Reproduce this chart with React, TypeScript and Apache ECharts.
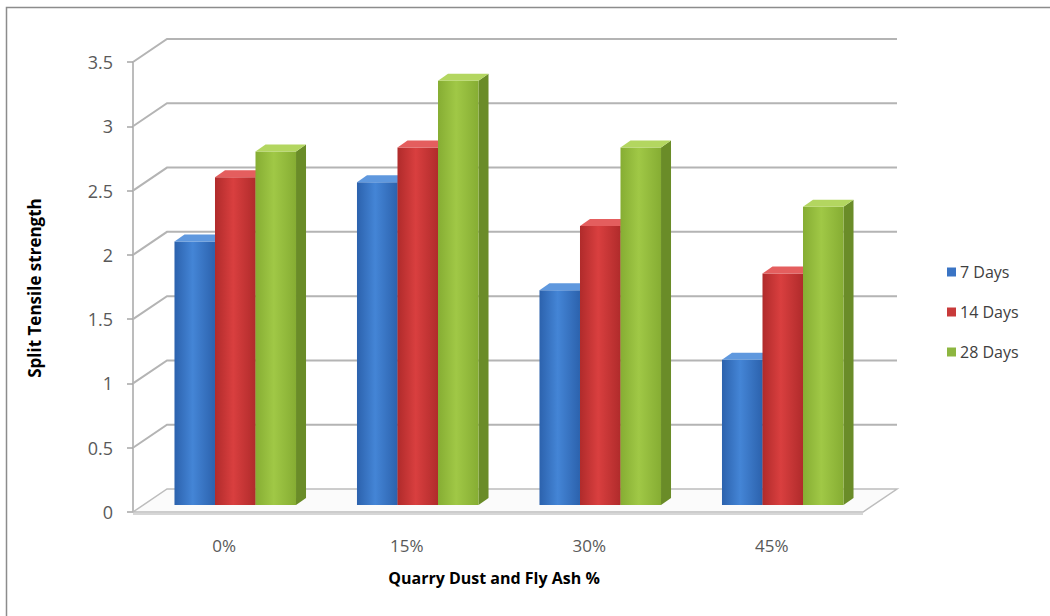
import React, { useEffect, useRef } from "react";
import * as echarts from "echarts";

const categories = ["0%", "15%", "30%", "45%"];
const seriesNames = ["7 Days", "14 Days", "28 Days"];
const days7 = [2.05, 2.51, 1.67, 1.13];
const days14 = [2.55, 2.78, 2.17, 1.8];
const days28 = [2.75, 3.3, 2.78, 2.32];
const yTicks = [0, 0.5, 1, 1.5, 2, 2.5, 3, 3.5];

// oblique projection of the chart "depth"
const WALL_DX = 34;
const WALL_DY = -23;
const BAR_SHIFT_X = 11;
const BAR_SHIFT_Y = -7;
const BAR_DX = 10;
const BAR_DY = -7;
const BAR_FRAC = 0.222;

const palettes = [
  { legend: "#3a74c4", edge: "#2c62ad", mid: "#4485d6", top: "#5f98de", side: "#24508e" },
  { legend: "#c83a3a", edge: "#b02b2b", mid: "#d93f3f", top: "#e45e5e", side: "#962323" },
  { legend: "#8db640", edge: "#86ad33", mid: "#a0c846", top: "#b3d660", side: "#6a8c28" },
];

const FONT = "'Open Sans', 'Noto Sans', sans-serif";

function gradient(p: any) {
  return {
    type: "linear",
    x: 0,
    y: 0,
    x2: 1,
    y2: 0,
    colorStops: [
      { offset: 0, color: p.edge },
      { offset: 0.45, color: p.mid },
      { offset: 1, color: p.edge },
    ],
  };
}

function makeBarRenderer(sIdx: number) {
  const p = palettes[sIdx];
  return (params: any, api: any) => {
    const cat = api.value(0);
    const val = api.value(1);
    const base = api.coord([cat, 0]);
    const top = api.coord([cat, val]);
    const band = api.size([1, 0])[0];
    const w = band * BAR_FRAC;
    const x0 = base[0] - 1.5 * w + sIdx * w + BAR_SHIFT_X;
    const yb = base[1] + BAR_SHIFT_Y;
    const yt = top[1] + BAR_SHIFT_Y;
    return {
      type: "group",
      children: [
        {
          type: "polygon",
          shape: {
            points: [
              [x0 + w, yt],
              [x0 + w + BAR_DX, yt + BAR_DY],
              [x0 + w + BAR_DX, yb + BAR_DY],
              [x0 + w, yb],
            ],
          },
          style: { fill: p.side },
        },
        {
          type: "rect",
          shape: { x: x0, y: yt, width: w, height: yb - yt },
          style: { fill: gradient(p) },
        },
        {
          type: "polygon",
          shape: {
            points: [
              [x0, yt],
              [x0 + BAR_DX, yt + BAR_DY],
              [x0 + w + BAR_DX, yt + BAR_DY],
              [x0 + w, yt],
            ],
          },
          style: { fill: p.top },
        },
      ],
    };
  };
}

function renderWall(params: any, api: any) {
  const cs = params.coordSys;
  const v = api.value(1);
  const y = api.coord([0, v])[1];
  const left = cs.x;
  const right = cs.x + cs.width;
  const lineStyle = { stroke: "#b4b4b4", lineWidth: 2, fill: null };
  const children: any[] = [];
  if (v === 0) {
    children.push({
      type: "polygon",
      shape: {
        points: [
          [left, y],
          [right, y],
          [right + WALL_DX, y + WALL_DY],
          [left + WALL_DX, y + WALL_DY],
        ],
      },
      style: { fill: "#fbfbfb", stroke: "#bdbdbd", lineWidth: 1.5 },
    });
    children.push({
      type: "line",
      shape: { x1: left, y1: y + 2, x2: right, y2: y + 2 },
      style: { stroke: "#d6d6d6", lineWidth: 2 },
    });
  } else {
    children.push({
      type: "polyline",
      shape: {
        points: [
          [left, y],
          [left + WALL_DX, y + WALL_DY],
          [right + WALL_DX, y + WALL_DY],
        ],
      },
      style: lineStyle,
    });
  }
  return { type: "group", children };
}

export default function App() {
  const ref = useRef<HTMLDivElement>(null);

  useEffect(() => {
    if (!ref.current) return;
    const chart = echarts.init(ref.current, null, { renderer: "svg" });
    const seriesData = [days7, days14, days28];

    const option: any = {
      animation: false,
      backgroundColor: "#ffffff",
      grid: { left: 133, right: 187, top: 62, bottom: 104 },
      legend: {
        data: seriesNames,
        orient: "vertical",
        left: 942,
        top: 259,
        itemWidth: 9,
        itemHeight: 9,
        itemGap: 24,
        icon: "rect",
        textStyle: { fontFamily: FONT, fontSize: 16, color: "#404040", padding: [0, 0, 0, -1] },
      },
      xAxis: {
        type: "category",
        data: categories,
        axisLine: { show: false },
        axisTick: { show: false },
        axisLabel: { fontFamily: FONT, fontSize: 17, color: "#595959", margin: 25, interval: 0 },
        splitLine: { show: false },
      },
      yAxis: {
        type: "value",
        min: 0,
        max: 3.5,
        interval: 0.5,
        axisLine: { show: true, lineStyle: { color: "#a6a6a6", width: 1.5 } },
        axisTick: { show: true, length: 6, lineStyle: { color: "#a6a6a6", width: 1.5 } },
        axisLabel: { fontFamily: FONT, fontSize: 18, color: "#595959", margin: 20 },
        splitLine: { show: false },
      },
      graphic: [
        {
          type: "rect",
          shape: { x: 6.5, y: 7.5, width: 1100, height: 700 },
          style: { fill: "none", stroke: "#8c8c8c", lineWidth: 1.5 },
          z: -1,
        },
        {
          type: "text",
          x: 34,
          y: 288,
          rotation: Math.PI / 2,
          style: {
            text: "Split Tensile strength",
            fontFamily: FONT,
            fontWeight: "bold",
            fontSize: 17,
            fill: "#000",
            align: "center",
            verticalAlign: "middle",
          },
        },
        {
          type: "text",
          x: 494,
          y: 578,
          style: {
            text: "Quarry Dust and Fly Ash %",
            fontFamily: FONT,
            fontWeight: "bold",
            fontSize: 16,
            fill: "#000",
            align: "center",
            verticalAlign: "middle",
          },
        },
      ],
      series: [
        {
          type: "custom",
          name: "wall",
          silent: true,
          clip: false,
          z: 1,
          renderItem: renderWall,
          data: yTicks.map((v) => [0, v]),
        },
        ...seriesNames.map((name, i) => ({
          type: "custom",
          name,
          clip: false,
          z: 2,
          itemStyle: { color: palettes[i].legend },
          renderItem: makeBarRenderer(i),
          encode: { x: 0, y: 1 },
          data: seriesData[i].map((v, c) => [c, v]),
        })),
      ],
    };

    chart.setOption(option);
    return () => chart.dispose();
  }, []);

  return (
    <div
      ref={ref}
      style={{ position: "absolute", left: 0, top: 0, width: 1050, height: 616, background: "#fff" }}
    />
  );
}
